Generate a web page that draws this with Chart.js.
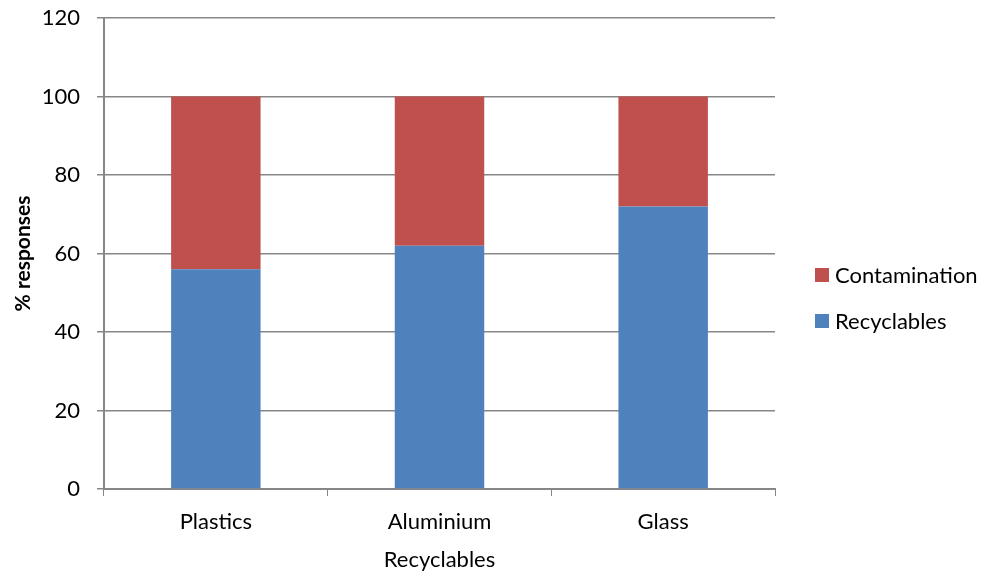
<!DOCTYPE html>
<html>
<head>
<meta charset="utf-8">
<script src="https://cdn.jsdelivr.net/npm/chart.js@4.4.1/dist/chart.umd.min.js"></script>
<style>
  html, body { margin: 0; padding: 0; background: #ffffff; }
  #wrap { width: 991px; height: 576px; }
</style>
</head>
<body>
<div id="wrap"><canvas id="chart" width="991" height="576"></canvas></div>
<script>
// Share of responses per material
const categories = ['Plastics', 'Aluminium', 'Glass'];
const recyclables = [56, 62, 72];
const contamination = [44, 38, 28];
const yTicks = [0, 20, 40, 60, 80, 100, 120];

const FONT = 'Lato, "Open Sans", "Liberation Sans", sans-serif';
const GRID = '#878787';

// Legend drawn to the right of the plot, top entry = top of stack
const sideLegend = {
  id: 'sideLegend',
  afterDraw(chart) {
    const { ctx, chartArea } = chart;
    const items = chart.data.datasets.slice().reverse();
    const x = chartArea.right + 40;
    const midY = (chartArea.top + chartArea.bottom) / 2 + 44.5;
    const gap = 46;
    ctx.save();
    ctx.font = '22px ' + FONT;
    ctx.textBaseline = 'middle';
    ctx.textAlign = 'left';
    items.forEach((ds, i) => {
      const cy = midY + (i - (items.length - 1) / 2) * gap;
      ctx.fillStyle = ds.backgroundColor;
      ctx.fillRect(x, cy - 7, 14, 14);
      ctx.fillStyle = '#000000';
      ctx.fillText(ds.label, x + 20, cy + 1);
    });
    ctx.restore();
  }
};

new Chart(document.getElementById('chart'), {
  type: 'bar',
  data: {
    labels: categories,
    datasets: [
      { label: 'Recyclables', data: recyclables, backgroundColor: '#4F81BD', borderWidth: 0 },
      { label: 'Contamination', data: contamination, backgroundColor: '#C0504D', borderWidth: 0 }
    ]
  },
  options: {
    responsive: false,
    animation: false,
    devicePixelRatio: 1,
    layout: { padding: { top: 18, right: 216, bottom: 0, left: 0 } },
    datasets: { bar: { categoryPercentage: 1, barPercentage: 0.4 } },
    plugins: {
      legend: { display: false },
      tooltip: { enabled: false }
    },
    scales: {
      x: {
        stacked: true,
        grid: { display: true, drawOnChartArea: false, drawTicks: true, tickLength: 7, color: GRID, offset: true },
        border: { display: true, color: GRID, width: 2 },
        ticks: { color: '#000000', font: { family: FONT, size: 22 }, padding: 13 },
        title: { display: true, text: 'Recyclables', color: '#000000', font: { family: FONT, size: 22 }, padding: { top: 6, bottom: 3 } },
        afterFit(s) { s.height = 87; s.paddingLeft = 0; s.paddingRight = 0; }
      },
      y: {
        stacked: true,
        min: 0,
        max: 120,
        afterBuildTicks(s) { s.ticks = yTicks.map(v => ({ value: v })); },
        grid: { color: GRID, lineWidth: 1.5, tickLength: 7, drawTicks: true },
        border: { display: true, color: GRID, width: 2 },
        ticks: { color: '#000000', font: { family: FONT, size: 22 }, padding: 17 },
        title: { display: true, text: '% responses', color: '#000000', font: { family: FONT, size: 21, weight: 'bold' }, padding: { top: 11, bottom: 0 } },
        afterFit(s) { s.width = 104; s.paddingTop = 0; s.paddingBottom = 0; }
      }
    }
  },
  plugins: [sideLegend]
});
</script>
</body>
</html>
